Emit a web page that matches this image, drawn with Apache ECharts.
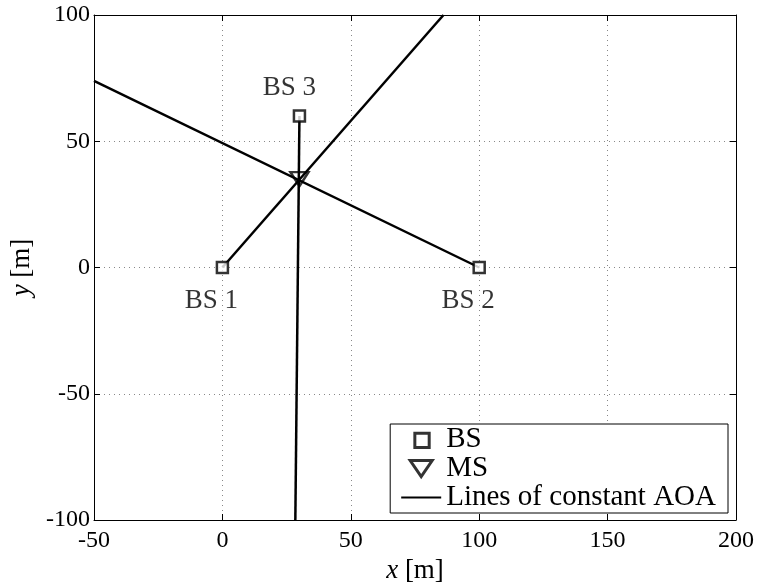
<!DOCTYPE html>
<html>
<head>
<meta charset="utf-8">
<script src="https://cdn.jsdelivr.net/npm/echarts@6/dist/echarts.min.js"></script>
<style>html,body{margin:0;padding:0;background:#fff}#c{width:757px;height:586px}</style>
</head>
<body>
<div id="c"></div>
<script>
// Data
var bsNames = ['BS 1', 'BS 2', 'BS 3'];
var bsX = [0, 100, 30];
var bsY = [0, 0, 60];
var msX = [30];
var msY = [35];
// Lines of constant AOA (start at each BS, end at plot edge)
var aoaLine1 = [[0, 0], [86.1, 100]];
var aoaLine2 = [[100, 0], [-50, 73.9]];
var aoaLine3 = [[30, 60], [28.4, -100]];
var xTicks = [-50, 0, 50, 100, 150, 200];
var yTicks = [-100, -50, 0, 50, 100];
var legendNames = ['BS', 'MS', 'Lines of constant AOA'];

var FONT = '"Liberation Serif", "Times New Roman", serif';
var chart = echarts.init(document.getElementById('c'), null, {renderer: 'canvas'});

var labelOffsets = [[-11, 0], [-11, 0], [-10, 0]];
var labelPos = ['bottom', 'bottom', 'top'];
var labelDist = [13, 13, 8];
var bsData = bsX.map(function (x, i) {
  return {
    value: [x, bsY[i]],
    name: bsNames[i],
    label: {
      show: true,
      formatter: bsNames[i],
      position: labelPos[i],
      distance: labelDist[i],
      offset: labelOffsets[i],
      fontFamily: FONT,
      fontSize: 27,
      color: '#000'
    }
  };
});
var msData = msX.map(function (x, i) { return [x, msY[i]]; });

var gridLine = {show: true, lineStyle: {color: '#888', type: [1, 4], width: 1}};
var lineSeries = [aoaLine1, aoaLine2, aoaLine3].map(function (d) {
  return {
    name: legendNames[2],
    type: 'line',
    data: d,
    symbol: 'none',
    lineStyle: {color: '#000', width: 2.5},
    itemStyle: {color: 'rgba(0,0,0,0)', borderWidth: 0},
    silent: true,
    z: 3
  };
});

function boxAxis(pos, min, max) {
  return {
    type: 'value', min: min, max: max, interval: 50, position: pos,
    axisLine: {show: true, onZero: false, lineStyle: {color: '#000', width: 1}},
    axisTick: {show: true, inside: true, length: 6, lineStyle: {color: '#000'}},
    axisLabel: {show: false}, splitLine: {show: false}
  };
}

var legendMarkStyle = {color: '#fff', borderColor: '#000', borderWidth: 3};

chart.setOption({
  animation: false,
  backgroundColor: '#fff',
  grid: {left: 94, right: 21, top: 15, bottom: 66, containLabel: false, outerBoundsMode: 'none'},
  xAxis: [{
    type: 'value', min: -50, max: 200, interval: 50, position: 'bottom',
    name: '{i|x} [m]', nameLocation: 'middle', nameGap: 34,
    nameTextStyle: {fontFamily: FONT, fontSize: 27, color: '#000',
      rich: {i: {fontFamily: FONT, fontSize: 27, fontStyle: 'italic', color: '#000'}}},
    axisLine: {show: true, onZero: false, lineStyle: {color: '#000', width: 1}},
    axisTick: {show: true, inside: true, length: 6, lineStyle: {color: '#000'}},
    axisLabel: {fontFamily: FONT, fontSize: 24, color: '#000', margin: 9},
    splitLine: gridLine
  }, boxAxis('top', -50, 200)],
  yAxis: [{
    type: 'value', min: -100, max: 100, interval: 50, position: 'left',
    name: '{i|y} [m]', nameLocation: 'middle', nameGap: 55,
    nameTextStyle: {fontFamily: FONT, fontSize: 27, color: '#000',
      rich: {i: {fontFamily: FONT, fontSize: 27, fontStyle: 'italic', color: '#000'}}},
    axisLine: {show: true, onZero: false, lineStyle: {color: '#000', width: 1}},
    axisTick: {show: true, inside: true, length: 6, lineStyle: {color: '#000'}},
    axisLabel: {fontFamily: FONT, fontSize: 24, color: '#000', margin: 4},
    splitLine: gridLine
  }, boxAxis('right', -100, 100)],
  legend: {
    orient: 'vertical',
    right: 29, bottom: 73,
    backgroundColor: '#fff',
    borderColor: '#000', borderWidth: 1, borderRadius: 0,
    padding: [1, 12, 1, 10],
    itemWidth: 40, itemHeight: 16, itemGap: 0,
    symbolKeepAspect: true,
    symbolRotate: 0,
    textStyle: {fontFamily: FONT, fontSize: 29, color: '#000'},
    data: [
      {name: legendNames[0], icon: 'path://M0,0L0,0M1.5,1.5H14.5V14.5H1.5Z', itemStyle: legendMarkStyle},
      {name: legendNames[1], icon: 'path://M0,0H22L11,16Z', itemStyle: legendMarkStyle},
      {name: legendNames[2]}
    ]
  },
  series: lineSeries.concat([{
    name: legendNames[0], type: 'scatter', data: bsData,
    symbol: 'rect', symbolSize: 11,
    itemStyle: {color: '#fff', borderColor: '#000', borderWidth: 2.5},
    z: 5
  }, {
    name: legendNames[1], type: 'scatter', data: msData,
    symbol: 'triangle', symbolRotate: 180, symbolSize: [18, 14],
    itemStyle: {color: 'rgba(255,255,255,0)', borderColor: '#000', borderWidth: 2.5},
    z: 5
  }])
});
</script>
</body>
</html>
